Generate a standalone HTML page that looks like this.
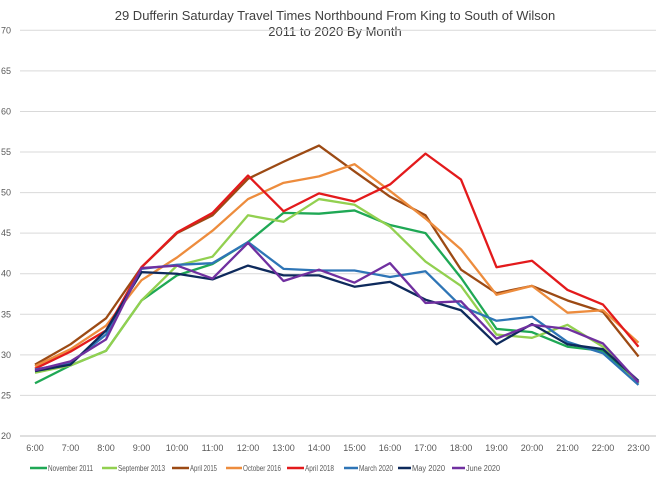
<!DOCTYPE html>
<html><head><meta charset="utf-8"><style>
body{margin:0;background:#fff;font-family:"Liberation Sans",sans-serif;}
svg text{font-family:"Liberation Sans",sans-serif;}
</style></head><body>
<svg id="chart" width="660" height="483" xmlns="http://www.w3.org/2000/svg">
<text x="335" y="20" text-anchor="middle" font-size="13" fill="#404040">29 Dufferin Saturday Travel Times Northbound From King to South of Wilson</text>
<text x="335" y="36" text-anchor="middle" font-size="13" fill="#404040">2011 to 2020 By Month</text>
<g id="grid"></g><g id="series"></g><g id="legend"></g>
</svg>
<script>
const categories=["6:00","7:00","8:00","9:00","10:00","11:00","12:00","13:00","14:00","15:00","16:00","17:00","18:00","19:00","20:00","21:00","22:00","23:00"];
const yTicks=[20,25,30,35,40,45,50,55,60,65,70];
const seriesNames=["November 2011","September 2013","April 2015","October 2016","April 2018","March 2020","May 2020","June 2020"];
const seriesColors=["#1fa855","#92d050","#9c4a14","#ed8c3d","#e31a1c","#2e75b6","#0e2a5c","#7030a0"];
const nov2011=[26.5,28.7,30.5,36.7,39.8,41.2,43.9,47.5,47.4,47.8,46,45,39.5,33.2,32.8,31,30.5,26.5];
const sep2013=[27.8,28.7,30.5,36.7,41,42.1,47.2,46.4,49.2,48.5,45.8,41.5,38.5,32.5,32.1,33.7,31,26.5];
const apr2015=[28.8,31.3,34.5,40.8,45,47.2,51.7,53.8,55.8,52.6,49.5,47.2,40.5,37.6,38.5,36.7,35.3,29.8];
const oct2016=[28.6,30.7,33.6,39.2,42,45.3,49.2,51.2,52,53.5,50.2,46.8,43,37.4,38.5,35.2,35.5,31.5];
const apr2018=[28.3,30.4,33,40.8,45.1,47.5,52.1,47.7,49.9,48.9,51,54.8,51.6,40.8,41.6,38,36.2,31];
const mar2020=[28.2,29,32.5,40.6,41.1,41.3,43.9,40.6,40.4,40.4,39.6,40.3,36,34.2,34.7,31.6,30.2,26.3];
const may2020=[28,28.8,33,40.2,40,39.3,41,39.8,39.8,38.4,39,36.8,35.5,31.3,33.8,31.3,30.7,26.8];
const jun2020=[28.1,29.2,31.9,40.7,41,39.4,43.8,39.1,40.5,38.9,41.3,36.4,36.6,32,33.7,33.2,31.4,26.6];
const seriesData=[nov2011,sep2013,apr2015,oct2016,apr2018,mar2020,may2020,jun2020];
const NS="http://www.w3.org/2000/svg";
const x=i=>35+i*35.5;
const y=v=>436-(v-20)*8.114;
function mk(tag,attrs,parent){const e=document.createElementNS(NS,tag);for(const k in attrs)e.setAttribute(k,attrs[k]);parent.appendChild(e);return e;}
const grid=document.getElementById('grid');
yTicks.forEach(t=>{
 const l=mk('line',{x1:20,x2:656,y1:y(t),y2:y(t),stroke:t===20?'#bfbfbf':'#d9d9d9','stroke-width':1},grid);
 
 
 const tx=mk('text',{x:11,y:y(t)+3,'text-anchor':'end','font-size':9,fill:'#595959'},grid);
 tx.textContent=t;
 
 
});
categories.forEach((c,i)=>{
 const tx=mk('text',{x:x(i),y:451,'text-anchor':'middle','font-size':9,fill:'#595959'},grid);
 tx.textContent=c;
 
 
});
const sg=document.getElementById('series');
seriesData.forEach((d,s)=>{
 const p=mk('polyline',{points:d.map((v,i)=>x(i)+','+y(v)).join(' '),fill:'none',stroke:seriesColors[s],'stroke-width':2.3,'stroke-linejoin':'round'},sg);
 
 
});
const lg=document.getElementById('legend');
const lineStart=[30,102,172,226,287,344,398,452];
const textStart=[47,117,189,242,304,358,411,465];
const textEnd=[93,165,217,281,334,393,445,500];
seriesNames.forEach((n,s)=>{
 const g=mk('g',{},lg);
 
 
 mk('line',{x1:lineStart[s],x2:textStart[s],y1:468,y2:468,stroke:seriesColors[s],'stroke-width':2.5},g);
 const t=mk('text',{x:textStart[s]+1,y:471,'font-size':8,fill:'#595959',textLength:textEnd[s]-textStart[s]-1,lengthAdjust:'spacingAndGlyphs'},g);
 t.textContent=n;
});
</script>
</body></html>
